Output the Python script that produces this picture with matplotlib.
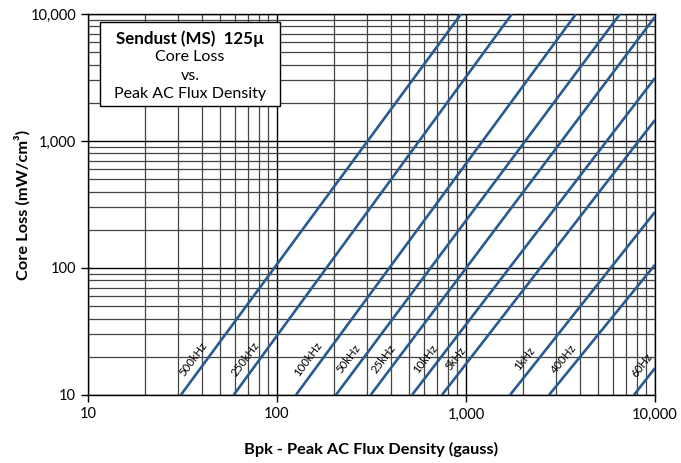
import numpy as np
import matplotlib.pyplot as plt
from matplotlib.ticker import FuncFormatter, LogLocator, NullFormatter

plt.rcParams['font.family'] = ['Lato', 'DejaVu Sans']

freqs = ['500kHz', '250kHz', '100kHz', '50kHz', '25kHz', '10kHz', '5kHz', '1kHz', '400Hz', '60Hz']
b_start = [31, 59, 126, 205, 313, 518, 746, 1710, 2750, 7740]
b_end = [942, 1750, 3820, 6530, 10000, 10000, 10000, 10000, 10000, 10000]
loss_start = [10, 10, 10, 10, 10, 10, 10, 10, 10, 10]
loss_end = [10000, 10000, 10000, 10000, 9500, 3130, 1463, 276, 106, 16.3]
label_loss = [17, 17, 17, 17, 17, 17, 17, 17, 17, 15]

x_ticks = [10, 100, 1000, 10000]
y_ticks = [10, 100, 1000, 10000]

fig = plt.figure(figsize=(6.81, 4.63), dpi=100)
ax = fig.add_axes([0.1292, 0.1469, 0.8326, 0.8229])
ax.set_xscale('log')
ax.set_yscale('log')
ax.set_xlim(10, 10000)
ax.set_ylim(10, 10000)

# grid
ax.grid(which='major', color='black', lw=1.0, zorder=0)
ax.grid(which='minor', color='#444444', lw=0.9, zorder=0)
ax.xaxis.set_minor_locator(LogLocator(base=10, subs=np.arange(2, 10)))
ax.yaxis.set_minor_locator(LogLocator(base=10, subs=np.arange(2, 10)))
ax.xaxis.set_minor_formatter(NullFormatter())
ax.yaxis.set_minor_formatter(NullFormatter())
ax.tick_params(which='minor', length=0)
ax.tick_params(which='major', length=5, width=1, color='black', labelsize=10.5, direction='out')
ax.tick_params(axis='x', pad=4)
ax.set_xticks(x_ticks)
ax.set_yticks(y_ticks)
fmt = FuncFormatter(lambda v, p: '{:,.0f}'.format(v))
ax.xaxis.set_major_formatter(fmt)
ax.yaxis.set_major_formatter(fmt)
for s in ax.spines.values():
    s.set_color('black')
    s.set_linewidth(1.0)

# slope of the curves on screen, for the label angle
def screen_angle(i):
    p0 = ax.transData.transform((b_start[i], loss_start[i]))
    p1 = ax.transData.transform((b_end[i], loss_end[i]))
    return np.degrees(np.arctan2(p1[1] - p0[1], p1[0] - p0[0]))

for i, f in enumerate(freqs):
    ax.plot([b_start[i], b_end[i]], [loss_start[i], loss_end[i]],
            color='#2a5a92', lw=1.9, solid_capstyle='butt', zorder=3)
    # label next to the curve, a bit to the upper left
    n = np.log(loss_end[i] / loss_start[i]) / np.log(b_end[i] / b_start[i])
    b_lab = b_start[i] * (label_loss[i] / loss_start[i]) ** (1.0 / n)
    ang = screen_angle(i)
    r = np.radians(ang)
    off = 11.5
    ax.annotate(f, xy=(b_lab, label_loss[i]),
                xytext=(-off * np.sin(r), off * np.cos(r)), textcoords='offset pixels',
                rotation=ang, rotation_mode='anchor', ha='center', va='center',
                fontsize=8.2, color='black', zorder=4)

# title box
box = plt.Rectangle((0.0215, 0.7584), 0.3175, 0.2204, transform=ax.transAxes,
                    facecolor='white', edgecolor='black', lw=1.0, zorder=5)
ax.add_patch(box)
cx = 0.0215 + 0.3175 / 2
ax.text(cx, 0.935, 'Sendust (MS)  125\u00b5', transform=ax.transAxes, ha='center', va='center',
        fontsize=12.2, fontweight='bold', zorder=6)
ax.text(cx, 0.886, 'Core Loss', transform=ax.transAxes, ha='center', va='center',
        fontsize=11.5, zorder=6)
ax.text(cx, 0.838, 'vs.', transform=ax.transAxes, ha='center', va='center',
        fontsize=11.5, zorder=6)
ax.text(cx, 0.790, 'Peak AC Flux Density', transform=ax.transAxes, ha='center', va='center',
        fontsize=11.5, zorder=6)

ax.set_xlabel('Bpk - Peak AC Flux Density (gauss)', fontsize=11.8, fontweight='bold')
ax.set_ylabel('Core Loss (mW/cm\u00b3)', fontsize=11.8, fontweight='bold')
ax.xaxis.set_label_coords(0.5, -0.142)
ax.xaxis.label.set_va('center')
ax.yaxis.set_label_coords(-0.115, 0.5)
ax.yaxis.label.set_va('center')

fig.savefig('out.png', dpi=100)
